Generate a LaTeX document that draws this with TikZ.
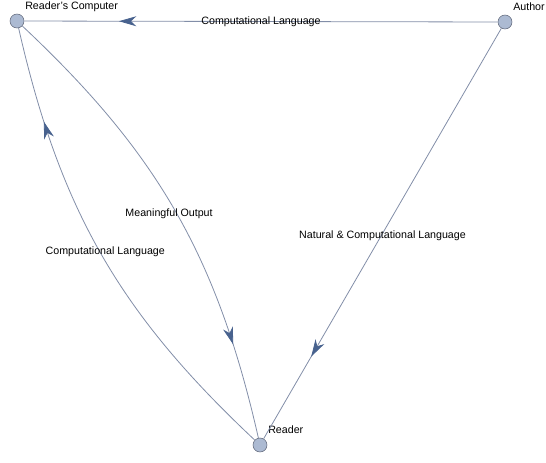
\documentclass[tikz,border=0pt]{standalone}
\usepackage{fontspec}
\setmainfont{Liberation Sans}
\usetikzlibrary{arrows.meta,decorations.markings}
\definecolor{edgegray}{RGB}{130,142,168}
\definecolor{tipblue}{RGB}{72,98,142}
\definecolor{vertfill}{RGB}{172,186,210}
\definecolor{vertdraw}{RGB}{95,102,120}

\begin{document}
\begin{tikzpicture}[
    x=0.75pt,y=-0.75pt,
    vert/.style={circle,draw=vertdraw,fill=vertfill,thin,minimum size=10.5pt,inner sep=0pt},
    lbl/.style={font=\fontsize{8}{9.6}\selectfont,inner sep=0pt},
    edge/.style={draw=edgegray,line width=0.6pt,postaction={decorate},
      decoration={markings,mark=at position 0.8 with
        {\arrow{Stealth[length=13pt,width=7.5pt,inset=4pt,color=tipblue]}}}}
  ]
    \useasboundingbox (0,0) rectangle (546,462);

    \node[vert] (comp) at (17,21) {};
    \node[vert] (author) at (505,22) {};
    \node[vert] (reader) at (260,445) {};

    \node[lbl,anchor=base west] (comptxt) at ([shift={(8,-12)}]comp) {Reader's Computer};
    \node[lbl,anchor=base west] (authortxt) at ([shift={(8,-12)}]author) {Author};
    \node[lbl,anchor=base west] (readertxt) at ([shift={(8,-12)}]reader) {Reader};

    \draw[edge] (author) -- node[lbl] {Computational Language} (comp);
    \draw[edge] (author) -- node[lbl,yshift=-1.5pt] {Natural \& Computational Language} (reader);
    \draw[edge] (comp) to[bend left=17] node[lbl,xshift=-5pt,yshift=-1.5pt] {Meaningful Output} (reader);
    \draw[edge] (reader) to[bend left=17] node[lbl,xshift=3pt,yshift=2.2pt] {Computational Language} (comp);
  \end{tikzpicture}
\end{document}
